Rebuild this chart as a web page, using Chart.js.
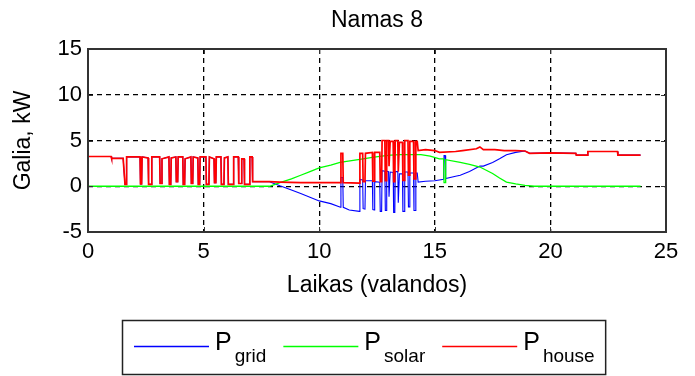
<!DOCTYPE html>
<html>
<head>
<meta charset="utf-8">
<title>Namas 8</title>
<script src="https://cdn.jsdelivr.net/npm/chart.js@4/dist/chart.umd.min.js"></script>
<style>
html, body { margin: 0; padding: 0; background: #fff; }
canvas { display: block; }
</style>
</head>
<body>
<canvas id="mycanvas" width="695" height="376"></canvas>
<script>
// night part (0 - 7.85 h): grid power equals house load, no solar
var nightHours = [0, 1.0, 1.02, 1.52,
	1.6, 1.65, 1.67, 2.25, 2.27, 2.32, 2.34, 2.6, 2.62, 2.74, 2.76, 3.1,
	3.12, 3.18, 3.2, 3.5, 3.52, 3.58, 3.6, 3.8, 3.82, 3.88, 3.9, 4.1,
	4.12, 4.18, 4.2, 4.45, 4.47, 4.53, 4.55, 4.75, 4.77, 4.83, 4.85, 5.1,
	5.12, 5.23, 5.25, 5.45, 5.47, 5.53, 5.55, 5.75, 5.77, 5.88, 5.9, 6.05,
	6.07, 6.28, 6.3, 6.5, 6.52, 6.63, 6.65, 6.75, 6.77, 6.98, 7.0, 7.1,
	7.12, 7.85];
var nightKW = [3.25, 3.25, 3.05, 3.05,
	0.2, 0.2, 3.2, 3.2, 0.25, 0.25, 3.2, 3.1, 0.2, 0.2, 3.2, 3.2,
	0.3, 0.3, 3.0, 3.2, 0.2, 0.2, 3.1, 3.2, 0.5, 0.5, 3.2, 3.2,
	0.2, 0.2, 3.0, 3.2, 0.3, 0.3, 3.2, 3.1, 0.2, 0.2, 3.2, 3.2,
	0.2, 0.2, 3.2, 3.0, 0.4, 0.4, 3.2, 3.2, 0.2, 0.2, 3.1, 3.2,
	0.2, 0.2, 3.2, 3.2, 0.3, 0.3, 3.0, 3.0, 0.2, 0.2, 3.2, 3.2,
	0.5, 0.5];

// house load during the day
var houseDayHours = [8.3, 9.2, 10.0, 10.92, 10.94, 11.02, 11.04, 11.74,
	11.76, 11.88, 11.9, 11.98, 12.0, 12.3, 12.32, 12.38, 12.4, 12.62, 12.64, 12.7,
	12.72, 12.84, 12.86, 12.9, 12.92, 13.0, 13.02, 13.05, 13.07, 13.2, 13.22, 13.27,
	13.29, 13.4, 13.42, 13.45, 13.47, 13.6, 13.62, 13.68, 13.7, 13.84, 13.86, 13.9,
	13.92, 14.08, 14.1, 14.16, 14.18, 14.24, 14.28, 14.6, 15.0, 15.2, 15.9, 16.2,
	16.8, 16.95, 17.1, 17.6, 18.0, 18.5, 18.9];
var houseDayKW = [0.45, 0.4, 0.4, 0.4, 3.6, 3.6, 0.4, 0.35,
	3.6, 3.6, 0.5, 0.5, 3.6, 3.7, 0.55, 0.55, 3.7, 3.7, 0.5, 0.5,
	5.0, 5.0, 0.6, 0.6, 5.0, 5.0, 2.2, 2.2, 4.9, 4.9, 0.5, 0.5,
	5.0, 5.0, 1.6, 1.6, 4.8, 4.8, 0.65, 0.65, 5.0, 5.0, 1.2, 1.2,
	4.9, 4.9, 0.8, 0.8, 4.9, 4.9, 3.9, 4.0, 3.9, 3.7, 3.8, 3.9,
	4.1, 4.3, 4.0, 4.0, 3.9, 3.9, 3.85];

// grid power during the day (negative = export)
var gridDayHours = [8.3, 8.8, 9.2, 9.6, 10.0, 10.5, 10.92, 10.94,
	11.02, 11.04, 11.3, 11.74, 11.76, 11.88, 11.9, 11.98, 12.0, 12.3, 12.32, 12.38,
	12.4, 12.62, 12.64, 12.7, 12.72, 12.84, 12.86, 12.9, 12.92, 13.0, 13.02, 13.05,
	13.07, 13.2, 13.22, 13.27, 13.29, 13.4, 13.42, 13.45, 13.47, 13.6, 13.62, 13.68,
	13.7, 13.84, 13.86, 13.9, 13.92, 14.08, 14.1, 14.16, 14.18, 14.24, 14.28, 14.6,
	15.0, 15.38, 15.4, 15.45, 15.47, 15.9, 16.1, 16.5, 16.95, 17.1, 17.5, 17.8,
	18.1, 18.5, 18.9];
var gridDayKW = [0.05, -0.4, -0.8, -1.2, -1.6, -1.9, -2.3, 0.95,
	0.95, -2.3, -2.6, -2.75, 0.75, 0.7, -2.45, -2.5, 0.6, 0.6, -2.55, -2.6,
	0.5, 0.45, -2.75, -2.75, 1.7, 1.65, -2.65, -2.65, 1.65, 1.6, -1.15, -1.15,
	1.55, 1.5, -2.85, -2.85, 1.6, 1.6, -1.8, -1.8, 1.35, 1.35, -2.75, -2.75,
	1.55, 1.55, -2.25, -2.25, 1.45, 1.45, -2.65, -2.65, 1.45, 1.45, 0.45, 0.55,
	0.6, 0.75, 3.35, 3.35, 0.85, 1.1, 1.2, 1.6, 2.2, 2.2, 2.6, 3.0,
	3.45, 3.7, 3.85];

// evening part: solar is zero again, grid equals house
var eveningHours = [19.1, 20.0, 21.1, 21.12, 21.6, 21.62, 22.9, 22.92, 23.9];
var eveningKW = [3.6, 3.65, 3.6, 3.4, 3.4, 3.8, 3.8, 3.4, 3.4];

// solar production
var solarHours = [0, 7.85, 8.3, 8.8, 9.2, 9.6, 10.0, 10.5, 10.9, 11.4, 11.9, 12.3,
	12.7, 13.1, 13.5, 14.0, 14.4, 14.8, 15.2, 15.38, 15.4, 15.45, 15.47, 16.1,
	16.5, 16.95, 17.5, 17.8, 18.1, 18.5, 18.9, 19.3, 23.9];
var solarKW = [0, 0, 0.4, 0.8, 1.2, 1.6, 2.0, 2.3, 2.6, 2.8, 3.0, 3.15,
	3.3, 3.4, 3.45, 3.45, 3.45, 3.3, 3.0, 3.0, 0.4, 0.4, 2.9, 2.6,
	2.4, 2.1, 1.4, 0.9, 0.45, 0.25, 0.1, 0, 0];

var xTicks = [0, 5, 10, 15, 20, 25];
var yTicks = [-5, 0, 5, 10, 15];
var seriesSubs = ['grid', 'solar', 'house'];
var seriesColors = ['#0000ff', '#00ff00', '#ff0000'];

var FONT = '"Liberation Sans", Arial, Helvetica, sans-serif';

function toPoints(xs, ys) {
	var pts = [];
	for (var i = 0; i < xs.length; i++) {
		pts.push({x: xs[i], y: ys[i]});
	}
	return pts;
}

var houseHours = nightHours.concat(houseDayHours, eveningHours);
var houseKW = nightKW.concat(houseDayKW, eveningKW);
var gridHours = nightHours.concat(gridDayHours, eveningHours);
var gridKW = nightKW.concat(gridDayKW, eveningKW);

// axes box with small inward ticks
var axesBox = {
	id: 'axesBox',
	afterDatasetsDraw: function(chart) {
		var ctx = chart.ctx;
		var a = chart.chartArea;
		var xs = chart.scales.x, ys = chart.scales.y;
		ctx.save();
		ctx.strokeStyle = '#333';
		ctx.lineWidth = 1;
		ctx.beginPath();
		xTicks.forEach(function(v) {
			var px = Math.round(xs.getPixelForValue(v)) + 0.5;
			ctx.moveTo(px, a.top); ctx.lineTo(px, a.top + 5);
			ctx.moveTo(px, a.bottom); ctx.lineTo(px, a.bottom - 5);
		});
		yTicks.forEach(function(v) {
			var py = Math.round(ys.getPixelForValue(v)) + 0.5;
			ctx.moveTo(a.left, py); ctx.lineTo(a.left + 5, py);
			ctx.moveTo(a.right, py); ctx.lineTo(a.right - 5, py);
		});
		ctx.stroke();
		ctx.lineWidth = 2;
		ctx.strokeRect(a.left, a.top, a.right - a.left, a.bottom - a.top);
		ctx.restore();
	}
};

// legend below the plot, with subscripted names
var legendBox = {
	id: 'legendBox',
	afterDraw: function(chart) {
		var ctx = chart.ctx;
		var x = 134, lineY = 346.5, baseY = 350, subY = 361.5;
		ctx.save();
		ctx.textBaseline = 'alphabetic';
		ctx.textAlign = 'left';
		chart.data.datasets.forEach(function(ds, i) {
			ctx.strokeStyle = ds.borderColor;
			ctx.lineWidth = 1.3;
			ctx.beginPath();
			ctx.moveTo(x, lineY);
			ctx.lineTo(x + 75, lineY);
			ctx.stroke();
			x += 81;
			ctx.fillStyle = '#000';
			ctx.font = '25px ' + FONT;
			ctx.fillText('P', x, baseY);
			x += ctx.measureText('P').width + 3;
			ctx.font = '19px ' + FONT;
			ctx.fillText(seriesSubs[i], x, subY);
			x += ctx.measureText(seriesSubs[i]).width + 17;
		});
		ctx.strokeStyle = '#222';
		ctx.lineWidth = 1.5;
		ctx.strokeRect(122.5, 320.5, x - 6 - 122.5, 54);
		ctx.restore();
	}
};

// lower order is drawn last: house sits on top of solar and grid
var chartdata = {
	datasets: [
		{
			label: 'P_grid',
			data: toPoints(gridHours, gridKW),
			borderColor: seriesColors[0],
			borderWidth: 1.1,
			pointRadius: 0,
			fill: false,
			lineTension: 0,
			order: 3
		},
		{
			label: 'P_solar',
			data: toPoints(solarHours, solarKW),
			borderColor: seriesColors[1],
			borderWidth: 1.3,
			pointRadius: 0,
			fill: false,
			lineTension: 0,
			order: 2
		},
		{
			label: 'P_house',
			data: toPoints(houseHours, houseKW),
			borderColor: seriesColors[2],
			borderWidth: 1.7,
			pointRadius: 0,
			fill: false,
			lineTension: 0,
			order: 1
		}
	]
};

var ctx = document.getElementById('mycanvas');

var LineGraph = new Chart(ctx, {
	type: 'line',
	data: chartdata,
	plugins: [axesBox, legendBox],
	options: {
		responsive: false,
		animation: false,
		events: [],
		layout: { padding: { left: 0, top: 0, right: 29, bottom: 74 } },
		plugins: {
			legend: { display: false },
			tooltip: { enabled: false },
			title: {
				display: true,
				text: 'Namas 8',
				fullSize: false,
				color: '#000',
				font: { family: FONT, size: 23, weight: 'normal' },
				padding: { top: 6.5, bottom: 14.9 }
			}
		},
		scales: {
			x: {
				type: 'linear',
				min: 0,
				max: 25,
				afterBuildTicks: function(scale) {
					scale.ticks = xTicks.map(function(v) { return {value: v}; });
				},
				afterFit: function(scale) { scale.height = 70; },
				grid: { color: '#000', lineWidth: 1.3, drawTicks: false },
				border: { display: false, dash: [5, 4] },
				ticks: {
					color: '#000',
					padding: 7,
					maxRotation: 0,
					autoSkip: false,
					font: { family: FONT, size: 22 }
				},
				title: {
					display: true,
					text: 'Laikas (valandos)',
					color: '#000',
					font: { family: FONT, size: 23 },
					padding: { top: 0, bottom: 3 }
				}
			},
			y: {
				min: -5,
				max: 15,
				afterBuildTicks: function(scale) {
					scale.ticks = yTicks.map(function(v) { return {value: v}; });
				},
				afterFit: function(scale) { scale.width = 88; },
				grid: { color: '#000', lineWidth: 1.3, drawTicks: false },
				border: { display: false, dash: [5, 4] },
				ticks: {
					color: '#000',
					padding: 6,
					autoSkip: false,
					font: { family: FONT, size: 22 }
				},
				title: {
					display: true,
					text: 'Galia, kW',
					color: '#000',
					font: { family: FONT, size: 23 },
					padding: { top: 10, bottom: 0 }
				}
			}
		}
	}
});
</script>
</body>
</html>
